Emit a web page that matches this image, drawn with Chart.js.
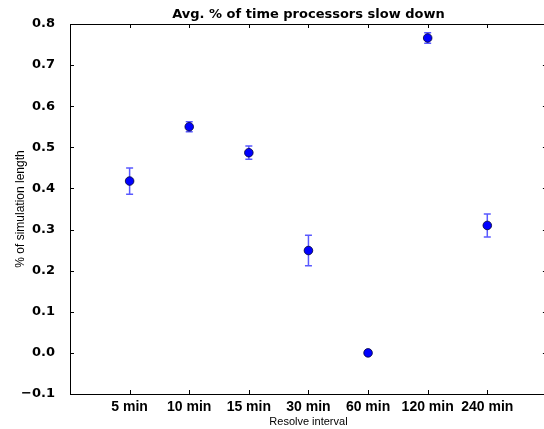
<!DOCTYPE html>
<html>
<head>
<meta charset="utf-8">
<script src="https://cdn.jsdelivr.net/npm/chart.js@4/dist/chart.umd.min.js"></script>
<style>
  html, body { margin: 0; padding: 0; background: #fff; overflow: hidden; }
  #wrap { width: 552px; height: 429px; }
</style>
</head>
<body>
<div id="wrap"><canvas id="chart"></canvas></div>
<script>
const categories = ['5 min', '10 min', '15 min', '30 min', '60 min', '120 min', '240 min'];
const means = [0.418, 0.550, 0.487, 0.249, 0.000, 0.766, 0.310];
const errors = [0.032, 0.012, 0.016, 0.037, 0.000, 0.013, 0.028];
const yTicks = [-0.1, 0.0, 0.1, 0.2, 0.3, 0.4, 0.5, 0.6, 0.7, 0.8];

const points = categories.map((c, i) => ({ x: i + 1, y: means[i] }));

const frame = {
    id: 'frame',
    beforeDatasetsDraw(chart) {
        const { ctx, chartArea: a, scales } = chart;
        ctx.save();
        ctx.strokeStyle = '#000';
        ctx.lineWidth = 1;
        ctx.strokeRect(a.left + 0.5, a.top + 0.5, a.right - a.left, a.bottom - a.top);
        ctx.beginPath();
        for (let i = 1; i <= categories.length; i++) {
            const x = Math.round(scales.x.getPixelForValue(i)) + 0.5;
            ctx.moveTo(x, a.bottom); ctx.lineTo(x, a.bottom - 4);
            ctx.moveTo(x, a.top); ctx.lineTo(x, a.top + 4);
        }
        yTicks.forEach(v => {
            const y = Math.round(scales.y.getPixelForValue(v)) + 0.5;
            ctx.moveTo(a.left, y); ctx.lineTo(a.left + 4, y);
            ctx.moveTo(a.right, y); ctx.lineTo(a.right - 4, y);
        });
        ctx.stroke();

        // error bars
        ctx.strokeStyle = 'rgba(0,0,255,0.65)';
        ctx.lineWidth = 1.5;
        ctx.beginPath();
        means.forEach((m, i) => {
            if (!errors[i]) return;
            const x = scales.x.getPixelForValue(i + 1);
            const y1 = scales.y.getPixelForValue(m + errors[i]);
            const y2 = scales.y.getPixelForValue(m - errors[i]);
            ctx.moveTo(x, y1); ctx.lineTo(x, y2);
            ctx.moveTo(x - 3.5, y1); ctx.lineTo(x + 3.5, y1);
            ctx.moveTo(x - 3.5, y2); ctx.lineTo(x + 3.5, y2);
        });
        ctx.stroke();
        ctx.restore();
    },
    afterDraw(chart) {
        const { ctx, chartArea: a } = chart;
        const cx = (a.left + a.right) / 2;
        ctx.save();
        ctx.fillStyle = '#000';
        ctx.textAlign = 'center';
        ctx.textBaseline = 'alphabetic';
        ctx.font = 'bold 13px "DejaVu Sans"';
        ctx.fillText('Avg. % of time processors slow down', cx, 18);
        ctx.font = '11px "Liberation Sans"';
        ctx.fillText('Resolve interval', cx, 425);
        ctx.font = '12px "Liberation Sans"';
        ctx.translate(24, (a.top + a.bottom) / 2);
        ctx.rotate(-Math.PI / 2);
        ctx.fillText('% of simulation length', 0, 0);
        ctx.restore();
    }
};

new Chart(document.getElementById('chart'), {
    type: 'scatter',
    data: {
        datasets: [{
            data: points,
            backgroundColor: '#0000ff',
            borderColor: '#000033',
            borderWidth: 0.8,
            pointRadius: 4.3,
            pointHoverRadius: 4.3
        }]
    },
    options: {
        responsive: true,
        maintainAspectRatio: false,
        animation: false,
        events: [],
        layout: { padding: { top: 24, right: 4, left: 0, bottom: 0 } },
        plugins: { legend: { display: false }, tooltip: { enabled: false } },
        scales: {
            x: {
                type: 'linear',
                min: 0,
                max: 8,
                afterFit(s) { s.height = 35; },
                afterBuildTicks(s) { s.ticks = categories.map((c, i) => ({ value: i + 1 })); },
                grid: { display: false },
                border: { display: false },
                ticks: {
                    padding: -3,
                    color: '#000',
                    maxRotation: 0,
                    autoSkip: false,
                    font: { family: 'Liberation Sans', size: 14, weight: 'bold' },
                    callback: v => categories[v - 1] || ''
                }
            },
            y: {
                min: -0.1,
                max: 0.8,
                afterFit(s) { s.width = 70; },
                afterBuildTicks(s) { s.ticks = yTicks.map(v => ({ value: v })); },
                grid: { display: false },
                border: { display: false },
                ticks: {
                    padding: 7,
                    color: '#000',
                    font: { family: 'DejaVu Sans', size: 13, weight: 'bold' },
                    callback: v => (v < 0 ? '\u2212' : '') + Math.abs(v).toFixed(1)
                }
            }
        }
    },
    plugins: [frame]
});
</script>
</body>
</html>
